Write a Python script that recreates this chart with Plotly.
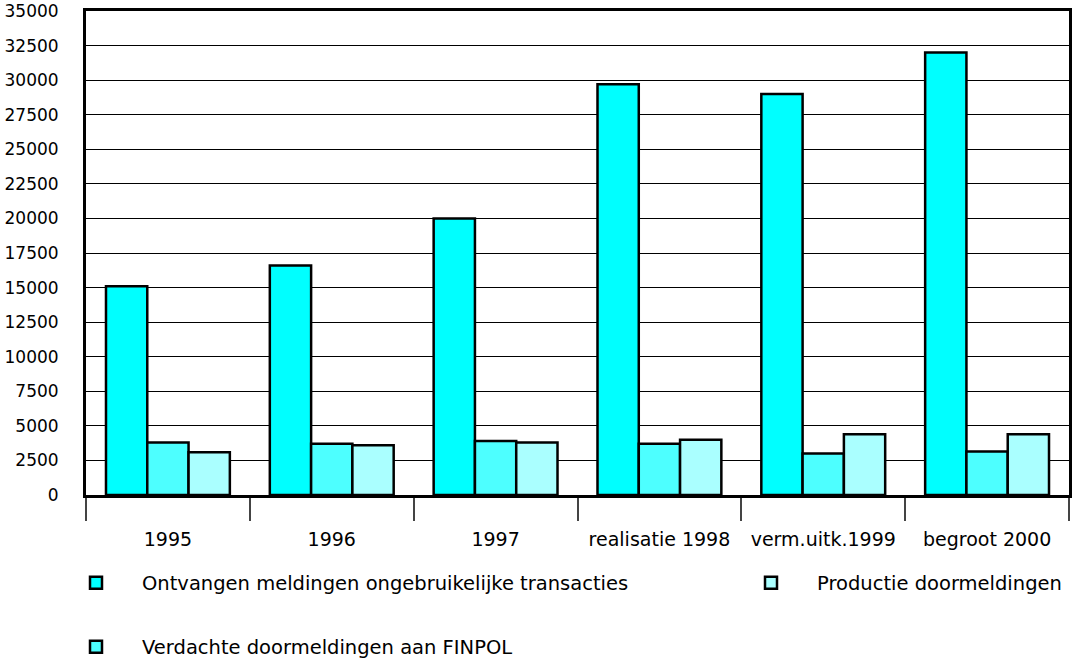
import plotly.graph_objects as go

categories = ["1995", "1996", "1997", "realisatie 1998", "verm.uitk.1999", "begroot 2000"]
ontvangen = [15100, 16600, 20000, 29700, 29000, 32000]
verdachte = [3800, 3700, 3900, 3700, 3000, 3150]
productie = [3100, 3600, 3800, 4000, 4400, 4400]

names = ["Ontvangen meldingen ongebruikelijke transacties",
         "Verdachte doormeldingen aan FINPOL",
         "Productie doormeldingen"]
colors = ["#00FFFF", "#4DFFFF", "#AAFFFF"]
y_ticks = list(range(0, 35001, 2500))

FONT = "DejaVu Sans"
W, H = 1073, 659
LFS = 19.5
IW = 82

fig = go.Figure()
series = [ontvangen, verdachte, productie]
legends = ["legend", "legend3", "legend2"]
for vals, nm, col, lg in zip(series, names, colors, legends):
    fig.add_trace(go.Bar(
        x=categories, y=vals, name=nm, legend=lg,
        marker=dict(color=col, line=dict(color="black", width=2.5)),
    ))

fig.update_layout(
    width=W, height=H,
    margin=dict(l=86, r=4, t=11, b=164, autoexpand=False),
    plot_bgcolor="white", paper_bgcolor="white",
    barmode="group", bargap=0.244, bargroupgap=0,
    font=dict(family=FONT, size=17, color="black"),
    xaxis=dict(
        showgrid=False, showline=True, linecolor="black", linewidth=3, mirror=True,
        ticks="outside", tickson="boundaries", ticklen=23, tickcolor="#444444", tickwidth=1.5,
        tickfont=dict(family=FONT, size=19), tickangle=0, ticklabelstandoff=25,
        range=[-0.5, 5.5],
    ),
    yaxis=dict(
        range=[0, 35001], tickvals=y_ticks, ticktext=[str(v) for v in y_ticks],
        showgrid=True, gridcolor="black", gridwidth=1,
        showline=True, linecolor="black", linewidth=3, mirror=True, ticks="",
        tickfont=dict(family=FONT, size=17), ticklabelstandoff=21,
        ticklabeloverflow="allow",
        zeroline=False,
    ),
    legend=dict(x=50 / W, y=1 - 583 / H, xref="container", yref="container",
                xanchor="left", yanchor="middle", itemwidth=IW,
                bgcolor="rgba(0,0,0,0)", font=dict(family=FONT, size=LFS)),
    legend2=dict(x=725 / W, y=1 - 583 / H, xref="container", yref="container",
                 xanchor="left", yanchor="middle", itemwidth=IW,
                 bgcolor="rgba(0,0,0,0)", font=dict(family=FONT, size=LFS)),
    legend3=dict(x=50 / W, y=1 - 647 / H, xref="container", yref="container",
                 xanchor="left", yanchor="middle", itemwidth=IW,
                 bgcolor="rgba(0,0,0,0)", font=dict(family=FONT, size=LFS)),
    showlegend=True,
)

fig.write_html("out.html")
